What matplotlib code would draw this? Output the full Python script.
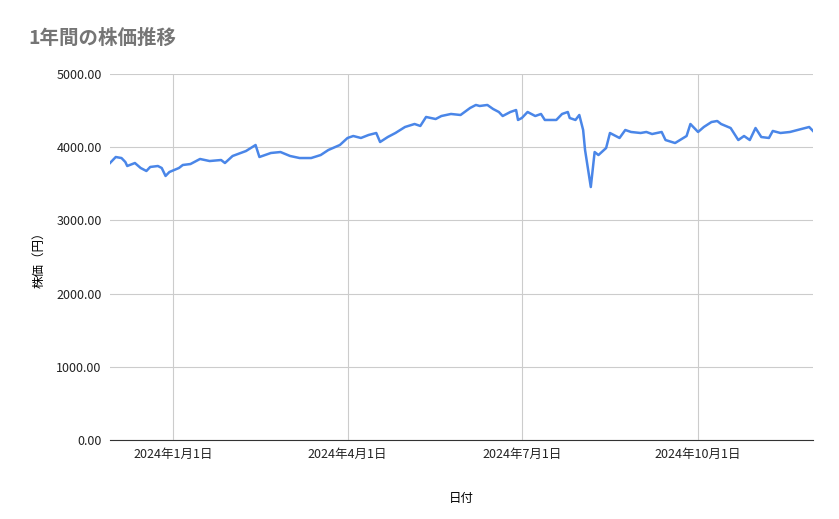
import matplotlib
matplotlib.use("Agg")
import matplotlib.pyplot as plt
import matplotlib.dates as mdates
import numpy as np
from datetime import date, timedelta

plt.rcParams['font.family'] = ['Noto Sans CJK JP', 'DejaVu Sans']

start = date(2023, 11, 29)
day_offsets = [0,3,6,8,9,13,16,19,21,25,27,29,31,36,38,42,47,52,58,60,64,71,76,78,84,89,94,99,105,110,114,120,124,127,131,135,139,141,145,149,154,159,162,165,170,173,178,183,188,191,193,197,200,203,205,209,212,213,215,218,222,225,227,233,236,239,240,243,245,247,248,251,253,255,259,261,266,269,272,277,280,283,288,290,295,301,303,307,310,314,317,319,324,328,331,334,337,340,344,346,350,355,361,365,367]
prices = [3784,3866,3852,3798,3743,3784,3716,3675,3730,3743,3716,3607,3661,3716,3757,3770,3839,3811,3825,3784,3880,3948,4030,3866,3921,3934,3880,3852,3852,3893,3962,4030,4126,4153,4126,4167,4194,4071,4139,4194,4276,4317,4290,4413,4385,4426,4454,4440,4536,4577,4563,4577,4522,4481,4426,4481,4508,4372,4399,4481,4426,4454,4372,4372,4454,4481,4399,4372,4440,4235,3962,3456,3934,3893,3989,4194,4126,4235,4208,4194,4208,4180,4208,4098,4057,4153,4317,4208,4276,4344,4358,4317,4262,4098,4153,4098,4262,4139,4126,4222,4194,4208,4249,4276,4222]
dates = [start + timedelta(days=d) for d in day_offsets]
tick_dates = [date(2024,1,1), date(2024,4,1), date(2024,7,1), date(2024,10,1)]
tick_labels = ["2024年1月1日", "2024年4月1日", "2024年7月1日", "2024年10月1日"]

fig = plt.figure(figsize=(8.39, 5.19), dpi=100)
ax = fig.add_axes([110/839, 1-440/519, (813-110)/839, (440-74)/519])
ax.plot(dates, prices, color='#4a86e8', lw=1.8)
ax.set_xlim(start, date(2024, 11, 30))
ax.set_ylim(0, 5000)
ax.set_yticks(np.arange(0, 5001, 1000))
ax.set_yticklabels([f"{v:.2f}" for v in range(0, 5001, 1000)])
ax.set_xticks(tick_dates)
ax.set_xticklabels(tick_labels)
ax.grid(True, color='#cccccc', lw=0.8)
ax.set_axisbelow(True)
for s in ['top', 'right', 'left']:
    ax.spines[s].set_visible(False)
ax.spines['bottom'].set_color('#333333')
ax.tick_params(length=0, labelsize=9, colors='#222222', pad=6)
ax.set_xlabel("日付", fontsize=9, labelpad=22)
ax.set_ylabel("株価（円）", fontsize=9, labelpad=8)
fig.text(28/839, 1-38/519, "1年間の株価推移", fontsize=14, color='#757575', fontweight='bold', va='center')
fig.savefig("out.png", dpi=100, facecolor='white')
